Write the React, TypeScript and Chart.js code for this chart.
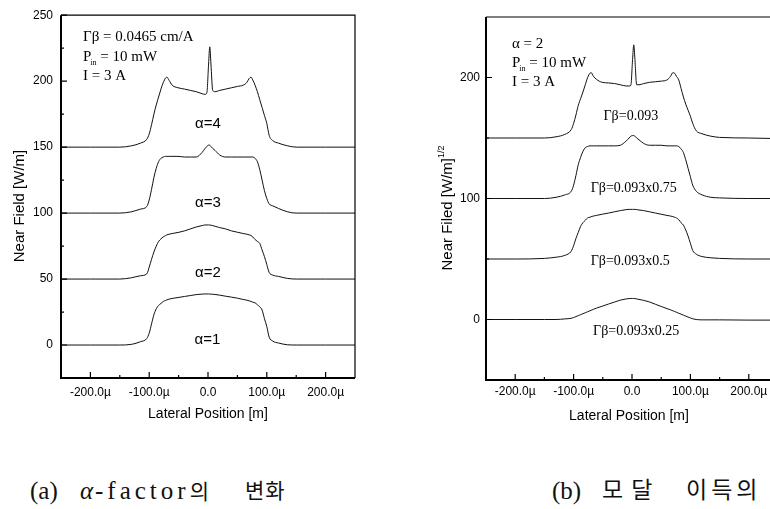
import React, { useEffect, useRef } from "react";
import { Chart, registerables } from "chart.js";
Chart.register(...registerables);

// ---------- data (µm positions, field values) ----------
const X_POS = [-250, -200, -150, -130, -115, -104, -100, -96, -92, -88, -84, -80, -76, -72, -70, -66, -61, -51, -40, -30, -20, -10, -5, -2, 1, 3, 5, 8, 12, 20, 30, 40, 50, 60, 66, 70, 73, 76, 80, 84, 88, 92, 96, 100, 104, 110, 120, 135, 150, 200, 250];

// left panel: alpha-factor variation
const ALPHA4 = [150, 150, 150, 151, 153, 156, 160, 167, 175, 182, 188, 194, 199, 202.5, 203, 200.5, 197, 195, 194, 193, 192, 190.5, 190, 191, 213, 226, 213, 193, 192, 193, 194, 195, 196, 197, 199, 202, 203, 201, 197, 192, 186, 180, 174, 168, 159, 155, 153, 151, 150, 150, 150];
const ALPHA3 = [100, 100, 100, 101, 103, 105, 110, 118, 127, 134, 139, 141.5, 142.5, 143, 143, 143, 143, 143, 142.5, 142.5, 142.5, 146, 149, 150.5, 151.5, 151.5, 150.5, 149, 147.5, 144, 142.5, 142.5, 142.5, 142.5, 142.5, 142.5, 142.5, 142.5, 141.5, 139, 133, 125, 117, 111, 107, 105.5, 103.5, 101, 100, 100, 100];
const ALPHA2 = [50, 50, 50, 51, 52.5, 54, 59, 65, 70.5, 75, 78.5, 80.5, 82, 83, 83.5, 84, 84.5, 85.3, 86.5, 88, 89.5, 90.5, 91, 91, 91, 91, 90.8, 90.5, 90, 89, 88, 86.5, 85.5, 84.5, 84, 83.5, 83, 82, 80, 78.5, 77, 72, 67, 61, 55, 53, 52, 50.5, 50, 50, 50];
const ALPHA1 = [0, 0, 0, 0.5, 2.5, 5, 9, 16, 23, 27.5, 30, 31.5, 33, 33.8, 34.2, 34.8, 35.3, 36, 36.8, 37.5, 38.2, 38.6, 38.7, 38.7, 38.7, 38.6, 38.6, 38.5, 38.3, 37.8, 37, 36.3, 35.5, 34.5, 34, 33.5, 33, 32.5, 32, 30.5, 29, 26.5, 20, 14, 6, 3, 1.5, 0.2, 0, 0, 0];

// right panel: modal gain variation
const GB_1 = [150, 150, 150, 151, 153, 157, 162, 169, 177, 182.5, 188, 194, 200, 203.5, 204, 201, 198.5, 196, 195.5, 195, 194, 193, 193, 193.5, 215, 227, 215, 194, 194, 195, 196, 196.5, 197, 198, 201, 204, 203.5, 201, 198, 191, 184, 178, 173, 168, 162, 156, 153.5, 151.5, 150.5, 150, 149.5];
const GB_075 = [100, 100, 100, 101, 103, 106, 111, 119, 128, 134, 139, 142, 143, 143.5, 143.5, 143.5, 143.5, 143.5, 143.5, 143.5, 144, 147.5, 150, 151.5, 152, 152, 151.5, 150, 148.5, 145.5, 144, 144, 144, 143.5, 143.5, 143.5, 143.5, 143.5, 143, 141, 138, 132, 125, 118, 111, 106, 103, 101, 100.5, 100, 100];
const GB_05 = [50, 50, 50.5, 51.5, 53, 56.5, 61, 67, 72, 77, 80, 82, 84, 84.5, 85, 85.5, 86, 87, 88, 89, 90, 90.8, 91, 91, 91, 91, 91, 90.8, 90.5, 90, 89, 88, 87, 86, 85.5, 85, 84.5, 84, 82.5, 80, 78, 74, 69, 63, 57, 54, 52, 51, 50.5, 50, 50];
const GB_025 = [0, 0, 0, 0, 0.5, 1, 1.6, 2.4, 3.2, 4, 4.8, 5.6, 6.4, 7.2, 7.6, 8.4, 9.4, 11, 12.8, 14.4, 16, 17, 17.3, 17.4, 17.4, 17.4, 17.3, 17, 16.6, 15.8, 14.5, 12.6, 10.8, 9, 8, 7.2, 6.6, 6, 5.2, 4.4, 3.6, 2.8, 2, 1.3, 0.6, 0, -0.3, -0.3, -0.3, -0.5, -0.5];

// ticks
const X_MAJOR = [-200, -100, 0, 100, 200];
const X_MINOR = [-150, -50, 50, 150];
const LEFT_Y_MAJOR = [0, 50, 100, 150, 200, 250];
const LEFT_Y_MINOR = [-25, 25, 75, 125, 175, 225];
const RIGHT_Y_MAJOR = [0, 100, 200];
const RIGHT_Y_MINOR = [-50, 50, 150];

// curve labels
const LEFT_LABELS = ["α=4", "α=3", "α=2", "α=1"];
const LEFT_LABEL_X = [0, 0, 0, -1];
const LEFT_LABEL_Y = [168, 108, 55, 4];
const RIGHT_LABELS = ["Γβ=0.093", "Γβ=0.093x0.75", "Γβ=0.093x0.5", "Γβ=0.093x0.25"];
const RIGHT_LABEL_X = [-2, 3, -3, 7];
const RIGHT_LABEL_Y = [167.5, 108, 48, -10];

const SERIF = '"Liberation Serif", "Times New Roman", serif';
const SANS = '"Liberation Sans", Arial, sans-serif';

type PanelCfg = {
  series: number[][];
  yMin: number;
  yMax: number;
  yMajor: number[];
  yMinor: number[];
  padding: { left: number; right: number; top: number; bottom: number };
  yWidth: number;
  xHeight: number;
  xPad: number;
  yPad: number;
  labels: string[];
  labelX: number[];
  labelY: number[];
  labelFont: string;
  notes: { first: string; x: number; y: number[] };
  yTitle: { x: number; y: number; text: string; sup?: string };
  xTitle: { y: number };
  drawRight: boolean;
};

function drawSubLine(ctx: CanvasRenderingContext2D, x: number, y: number) {
  ctx.font = `15px ${SERIF}`;
  ctx.fillText("P", x, y);
  const w = ctx.measureText("P").width;
  ctx.font = `8px ${SERIF}`;
  ctx.fillText("in", x + w - 1, y + 4);
  const ws = ctx.measureText("in").width;
  ctx.font = `15px ${SERIF}`;
  ctx.fillText(" = 10 mW", x + w + ws - 1, y);
}

function decoPlugin(cfg: PanelCfg) {
  return {
    id: "deco",
    afterDraw(chart: any) {
      const ctx: CanvasRenderingContext2D = chart.ctx;
      const a = chart.chartArea;
      const xs = chart.scales.x;
      const ys = chart.scales.y;
      ctx.save();
      ctx.strokeStyle = "#000";
      ctx.fillStyle = "#000";
      // frame
      ctx.lineWidth = 1.2;
      ctx.beginPath();
      ctx.moveTo(a.left, a.top);
      ctx.lineTo(a.right, a.top);
      if (cfg.drawRight) ctx.lineTo(a.right, a.bottom);
      ctx.stroke();
      ctx.lineWidth = 2;
      ctx.beginPath();
      ctx.moveTo(a.left, a.top);
      ctx.lineTo(a.left, a.bottom);
      ctx.lineTo(a.right, a.bottom);
      ctx.stroke();
      // ticks (inward)
      ctx.lineWidth = 1.2;
      ctx.beginPath();
      X_MAJOR.forEach((v) => {
        const p = xs.getPixelForValue(v);
        ctx.moveTo(p, a.bottom);
        ctx.lineTo(p, a.bottom - 6);
      });
      X_MINOR.forEach((v) => {
        const p = xs.getPixelForValue(v);
        ctx.moveTo(p, a.bottom);
        ctx.lineTo(p, a.bottom - 3);
      });
      cfg.yMajor.forEach((v) => {
        const p = ys.getPixelForValue(v);
        ctx.moveTo(a.left, p);
        ctx.lineTo(a.left + 6, p);
      });
      cfg.yMinor.forEach((v) => {
        const p = ys.getPixelForValue(v);
        ctx.moveTo(a.left, p);
        ctx.lineTo(a.left + 3, p);
      });
      ctx.stroke();

      // curve labels
      ctx.textAlign = "center";
      ctx.textBaseline = "middle";
      ctx.font = cfg.labelFont;
      cfg.labels.forEach((t, i) => {
        ctx.fillText(t, xs.getPixelForValue(cfg.labelX[i]), ys.getPixelForValue(cfg.labelY[i]));
      });

      // notes
      ctx.textAlign = "left";
      ctx.textBaseline = "alphabetic";
      ctx.font = `15px ${SERIF}`;
      ctx.fillText(cfg.notes.first, cfg.notes.x, cfg.notes.y[0]);
      drawSubLine(ctx, cfg.notes.x, cfg.notes.y[1]);
      ctx.font = `15px ${SERIF}`;
      ctx.fillText("I = 3 A", cfg.notes.x, cfg.notes.y[2]);

      // x title
      ctx.textAlign = "center";
      ctx.textBaseline = "middle";
      ctx.font = `14px ${SANS}`;
      ctx.fillText("Lateral Position [m]", (a.left + a.right) / 2 + (cfg.drawRight ? 0 : -3), cfg.xTitle.y);

      // y title (rotated)
      ctx.save();
      ctx.translate(cfg.yTitle.x, cfg.yTitle.y);
      ctx.rotate(-Math.PI / 2);
      ctx.font = `15px ${SANS}`;
      const mw = ctx.measureText(cfg.yTitle.text).width;
      let supW = 0;
      if (cfg.yTitle.sup) {
        ctx.font = `9px ${SANS}`;
        supW = ctx.measureText(cfg.yTitle.sup).width;
      }
      const total = mw + supW;
      ctx.textAlign = "left";
      ctx.font = `15px ${SANS}`;
      ctx.fillText(cfg.yTitle.text, -total / 2, 0);
      if (cfg.yTitle.sup) {
        ctx.font = `9px ${SANS}`;
        ctx.fillText(cfg.yTitle.sup, -total / 2 + mw, -6);
      }
      ctx.restore();
      ctx.restore();
    },
  };
}

function buildChart(canvas: HTMLCanvasElement, cfg: PanelCfg) {
  return new Chart(canvas, {
    type: "line",
    data: {
      datasets: cfg.series.map((s) => ({
        data: X_POS.map((x, i) => ({ x, y: s[i] })),
        borderColor: "#111",
        borderWidth: 1,
        pointRadius: 0,
        fill: false,
        cubicInterpolationMode: "monotone" as const,
      })),
    },
    options: {
      responsive: false,
      animation: false,
      layout: { padding: cfg.padding },
      plugins: { legend: { display: false }, tooltip: { enabled: false } },
      scales: {
        x: {
          type: "linear",
          min: -250,
          max: 250,
          afterFit: (s: any) => {
            s.height = cfg.xHeight;
          },
          afterBuildTicks: (s: any) => {
            s.ticks = X_MAJOR.map((v) => ({ value: v }));
          },
          grid: { display: false, drawTicks: false },
          border: { display: false },
          ticks: {
            autoSkip: false,
            maxRotation: 0,
            padding: cfg.xPad,
            color: "#000",
            font: { family: SANS, size: 12 },
            callback: (v: any) => (Number(v) === 0 ? "0.0" : `${Number(v).toFixed(1)}µ`),
          },
        },
        y: {
          type: "linear",
          min: cfg.yMin,
          max: cfg.yMax,
          afterFit: (s: any) => {
            s.width = cfg.yWidth;
          },
          afterBuildTicks: (s: any) => {
            s.ticks = cfg.yMajor.map((v) => ({ value: v }));
          },
          grid: { display: false, drawTicks: false },
          border: { display: false },
          ticks: {
            autoSkip: false,
            padding: cfg.yPad,
            color: "#000",
            font: { family: SANS, size: 12 },
            callback: (v: any) => String(v),
          },
        },
      },
    },
    plugins: [decoPlugin(cfg)],
  } as any);
}

const LEFT_CFG: PanelCfg = {
  series: [ALPHA4, ALPHA3, ALPHA2, ALPHA1],
  yMin: -25,
  yMax: 250,
  yMajor: LEFT_Y_MAJOR,
  yMinor: LEFT_Y_MINOR,
  padding: { left: 0, right: 30, top: 15, bottom: 0 },
  yWidth: 61,
  xHeight: 62,
  xPad: 7,
  yPad: 8,
  labels: LEFT_LABELS,
  labelX: LEFT_LABEL_X,
  labelY: LEFT_LABEL_Y,
  labelFont: `15px ${SANS}`,
  notes: { first: "Γβ = 0.0465 cm/A", x: 83, y: [41, 61, 80] },
  yTitle: { x: 20, y: 206, text: "Near Field [W/m]" },
  xTitle: { y: 414 },
  drawRight: true,
};

const RIGHT_CFG: PanelCfg = {
  series: [GB_1, GB_075, GB_05, GB_025],
  yMin: -50,
  yMax: 250,
  yMajor: RIGHT_Y_MAJOR,
  yMinor: RIGHT_Y_MINOR,
  padding: { left: 0, right: 12, top: 17, bottom: 0 },
  yWidth: 96,
  xHeight: 60,
  xPad: 4,
  yPad: 6,
  labels: RIGHT_LABELS,
  labelX: RIGHT_LABEL_X,
  labelY: RIGHT_LABEL_Y,
  labelFont: `14px ${SERIF}`,
  notes: { first: "α = 2", x: 122, y: [48, 67, 86] },
  yTitle: { x: 58, y: 208, text: "Near Filed [W/m]", sup: "1/2" },
  xTitle: { y: 416 },
  drawRight: false,
};

function Panel({ cfg, left, width }: { cfg: PanelCfg; left: number; width: number }) {
  const ref = useRef<HTMLCanvasElement | null>(null);
  useEffect(() => {
    if (!ref.current) return;
    const ch = buildChart(ref.current, cfg);
    return () => ch.destroy();
  }, [cfg]);
  return (
    <canvas
      ref={ref}
      width={width}
      height={440}
      style={{ position: "absolute", left, top: 0, width, height: 440 }}
    />
  );
}

const capBase: React.CSSProperties = {
  position: "absolute",
  top: 476,
  fontSize: 25,
  lineHeight: "30px",
  fontFamily: '"Liberation Serif", "Noto Sans CJK KR", serif',
  color: "#111",
  whiteSpace: "nowrap",
};

export default function App() {
  return (
    <div
      style={{
        position: "fixed",
        left: 0,
        top: 0,
        width: 770,
        height: 509,
        overflow: "hidden",
        background: "#fff",
      }}
    >
      <Panel cfg={LEFT_CFG} left={0} width={385} />
      <Panel cfg={RIGHT_CFG} left={390} width={400} />
      <span style={{ ...capBase, left: 30 }}>(a)</span>
      <span style={{ ...capBase, left: 80, fontStyle: "italic" }}>α</span>
      <span style={{ ...capBase, left: 95, letterSpacing: 4 }}>
        -factor<span style={{ fontSize: 21, letterSpacing: 0 }}>의</span>
      </span>
      <span style={{ ...capBase, left: 245, fontSize: 21, letterSpacing: 1 }}>변화</span>
      <span style={{ ...capBase, left: 552 }}>(b)</span>
      <span style={{ ...capBase, left: 602, fontSize: 23, letterSpacing: 8 }}>모달</span>
      <span style={{ ...capBase, left: 686, fontSize: 23, letterSpacing: 4 }}>이득의</span>
    </div>
  );
}
